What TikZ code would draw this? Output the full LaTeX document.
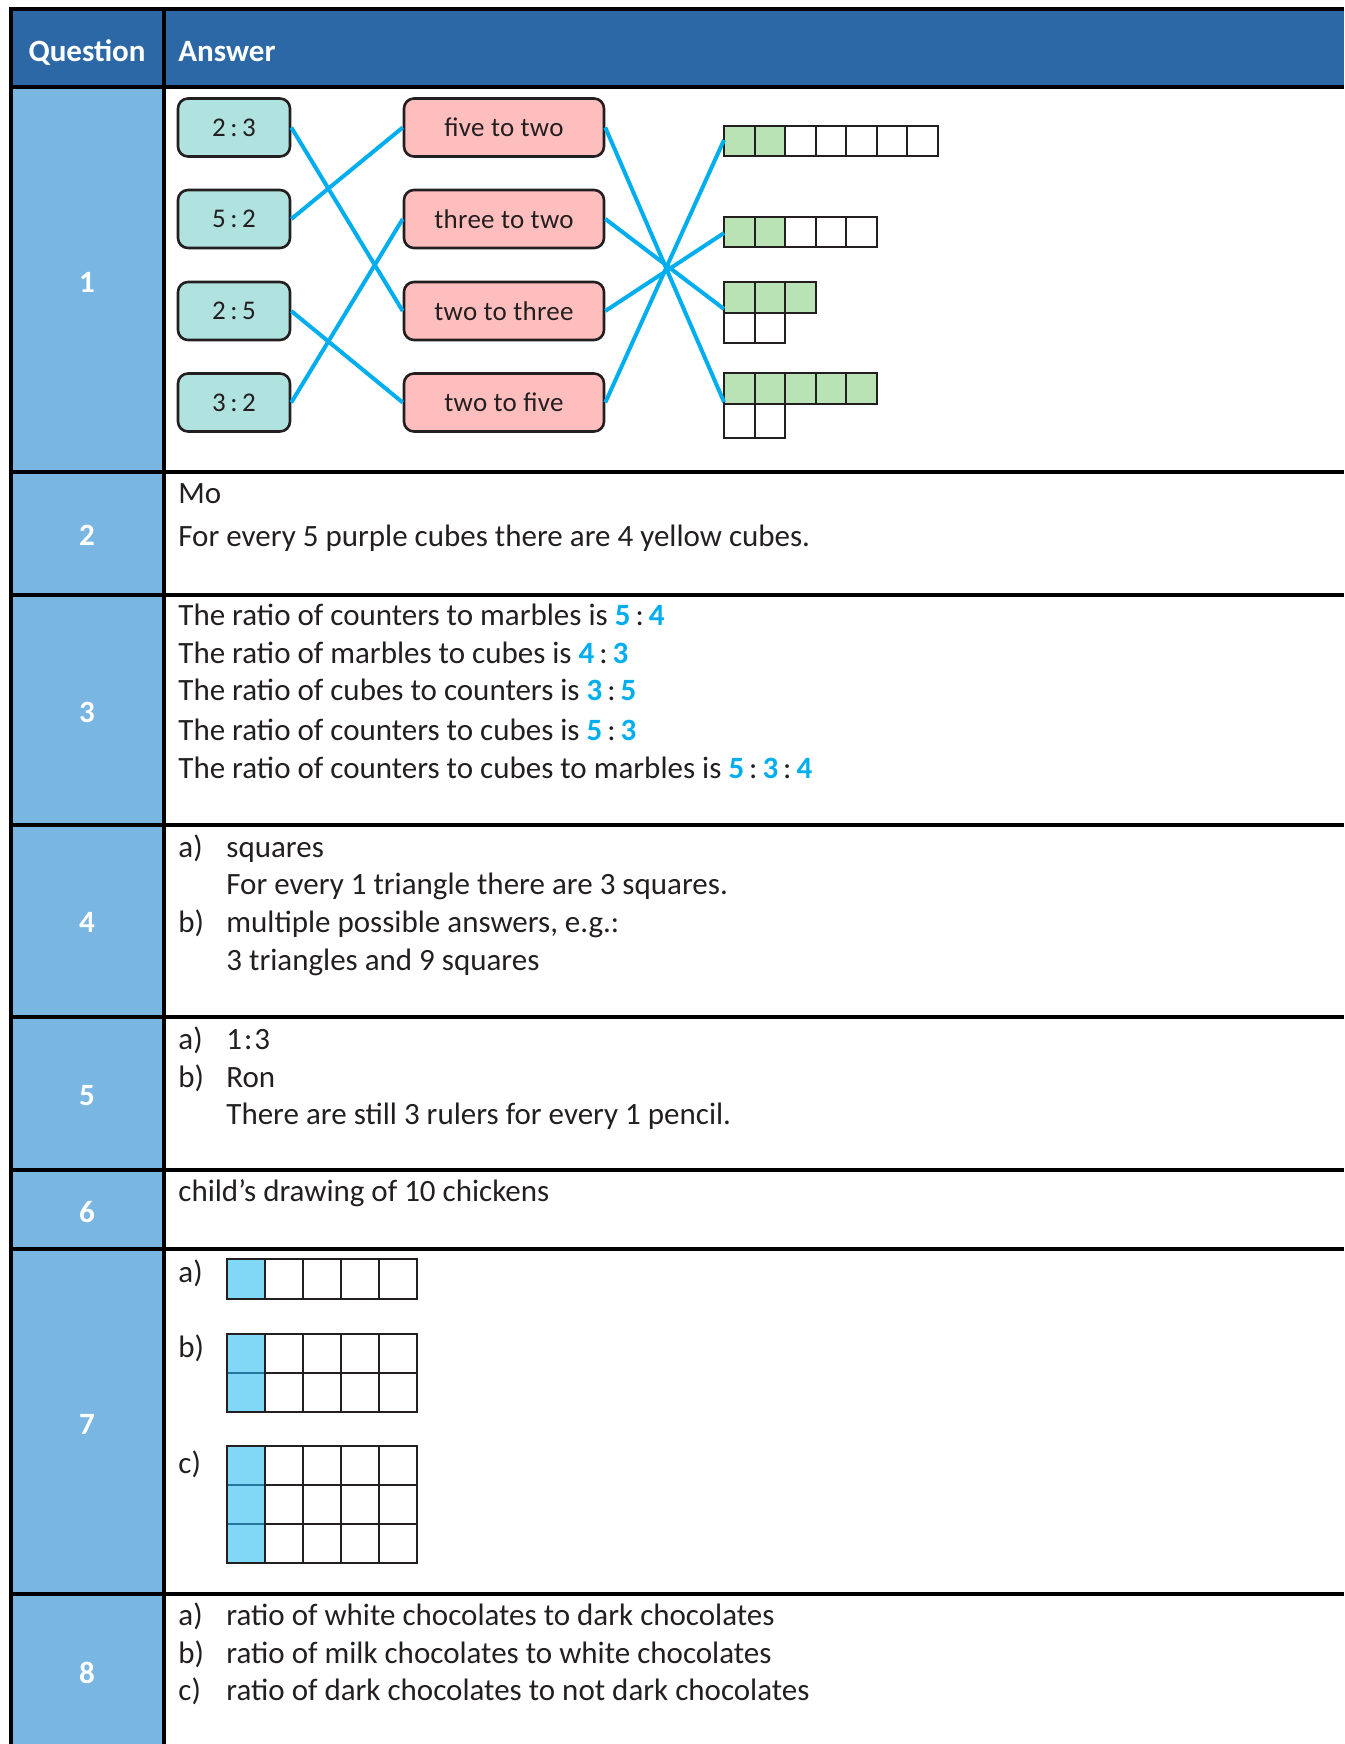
\documentclass[tikz,border=0pt]{standalone}
\usepackage{fontspec}
\setmainfont{Carlito}
\usepackage{xcolor}
\usetikzlibrary{positioning}

\definecolor{headblue}{HTML}{2D68A6}
\definecolor{qblue}{HTML}{79B6E2}
\definecolor{ratioteal}{HTML}{B0E2DF}
\definecolor{wordpink}{HTML}{FFBEBE}
\definecolor{barfill}{HTML}{B9E2B5}
\definecolor{partblue}{HTML}{80D7F6}
\definecolor{partline}{HTML}{23759B}
\definecolor{matchline}{HTML}{00AEEF}
\definecolor{ink}{HTML}{231F20}

\newcommand{\blueans}[1]{{\bfseries\color{matchline}#1}}
\newcommand{\rcolon}{\kern2.5pt:\kern2.5pt}

\tikzset{
  rule/.style = {line width=2pt, black},
  qnum/.style = {inner sep=0, text=white, font=\fontsize{15.5}{18}\selectfont\bfseries},
  ans/.style = {anchor=base west, inner sep=0, text=ink, font=\fontsize{15.5}{18}\selectfont},
  ratiobox/.style = {draw=ink, line width=1.3pt, rounded corners=5pt, fill=ratioteal,
    minimum width=56pt, minimum height=29pt, inner sep=0, text=ink,
    font=\fontsize{13.5}{15}\selectfont\addfontfeature{LetterSpace=1}},
  wordbox/.style = {ratiobox, fill=wordpink, minimum width=100pt},
  match/.style = {matchline, line width=2pt},
  cell/.style = {draw=ink, line width=1pt},
}

\begin{document}
\begin{tikzpicture}[x=0.5pt, y=-0.5pt]
  \useasboundingbox (0,0) rectangle (1344,1744);

  % table background
  \fill[headblue] (11,9) rectangle (1344,87);
  \fill[qblue] (11,87) rectangle (164,1744);

  \node[qnum, anchor=base] (qhead) at (87,62) {Question};
  \node[qnum, anchor=base west] (ahead) at (178,62) {Answer};

  \node[qnum] (q1) at (87,282) {1};
  \node[qnum] (q2) at (87,535) {2};
  \node[qnum] (q3) at (87,712) {3};
  \node[qnum] (q4) at (87,922) {4};
  \node[qnum] (q5) at (87,1096) {5};
  \node[qnum] (q6) at (87,1212) {6};
  \node[qnum] (q7) at (87,1424) {7};
  \node[qnum] (q8) at (87,1673) {8};

  % question 1
  \node[ratiobox] (r23) at (234,127.5) {2\,:\,3};
  \node[ratiobox] (r52) at (234,219) {5\,:\,2};
  \node[ratiobox] (r25) at (234,311) {2\,:\,5};
  \node[ratiobox] (r32) at (234,402.5) {3\,:\,2};

  \node[wordbox] (w52) at (504,127.5) {five to two};
  \node[wordbox] (w32) at (504,219) {three to two};
  \node[wordbox] (w23) at (504,311) {two to three};
  \node[wordbox] (w25) at (504,402.5) {two to five};

  \foreach \i in {0,1} \draw[cell, fill=barfill] ({724+30.5*\i},126) rectangle ++(30.5,30.5);
  \foreach \i in {2,...,6} \draw[cell, fill=white] ({724+30.5*\i},126) rectangle ++(30.5,30.5);

  \foreach \i in {0,1} \draw[cell, fill=barfill] ({724+30.5*\i},217) rectangle ++(30.5,30.5);
  \foreach \i in {2,...,4} \draw[cell, fill=white] ({724+30.5*\i},217) rectangle ++(30.5,30.5);

  \foreach \i in {0,...,2} \draw[cell, fill=barfill] ({724+30.5*\i},282) rectangle ++(30.5,30.5);
  \foreach \i in {0,1} \draw[cell, fill=white] ({724+30.5*\i},312.5) rectangle ++(30.5,30.5);

  \foreach \i in {0,...,4} \draw[cell, fill=barfill] ({724+30.5*\i},373) rectangle ++(30.5,30.5);
  \foreach \i in {0,1} \draw[cell, fill=white] ({724+30.5*\i},403.5) rectangle ++(30.5,34);

  \coordinate (bar25) at (724,140);
  \coordinate (bar23) at (724,233);
  \coordinate (bar32) at (724,309);
  \coordinate (bar52) at (724,402);

  \draw[match] (r23.east) -- (w23.west);
  \draw[match] (r52.east) -- (w52.west);
  \draw[match] (r25.east) -- (w25.west);
  \draw[match] (r32.east) -- (w32.west);

  \draw[match] (w52.east) -- (bar52);
  \draw[match] (w32.east) -- (bar32);
  \draw[match] (w23.east) -- (bar23);
  \draw[match] (w25.east) -- (bar25);

  % question 2
  \node[ans] (a2a) at (178,503) {Mo};
  \node[ans] (a2b) at (178,546) {For every 5 purple cubes there are 4 yellow cubes.};

  % question 3
  \node[ans] (a3a) at (178,625) {The ratio of counters to marbles is \blueans{5}\rcolon\blueans{4}};
  \node[ans] (a3b) at (178,663) {The ratio of marbles to cubes is \blueans{4}\rcolon\blueans{3}};
  \node[ans] (a3c) at (178,700) {The ratio of cubes to counters is \blueans{3}\rcolon\blueans{5}};
  \node[ans] (a3d) at (178,740) {The ratio of counters to cubes is \blueans{5}\rcolon\blueans{3}};
  \node[ans] (a3e) at (178,778) {The ratio of counters to cubes to marbles is \blueans{5}\rcolon\blueans{3}\rcolon\blueans{4}};

  % question 4
  \node[ans] (a4a) at (178,857) {a)};
  \node[ans] (a4b) at (226,857) {squares};
  \node[ans] (a4c) at (226,894) {For every 1 triangle there are 3 squares.};
  \node[ans] (a4d) at (178,932) {b)};
  \node[ans] (a4e) at (226,932) {multiple possible answers, e.g.:};
  \node[ans] (a4f) at (226,970) {3 triangles and 9 squares};

  % question 5
  \node[ans] (a5a) at (178,1049) {a)};
  \node[ans] (a5b) at (226,1049) {1\kern1pt:\kern1pt3};
  \node[ans] (a5c) at (178,1087) {b)};
  \node[ans] (a5d) at (226,1087) {Ron};
  \node[ans] (a5e) at (226,1124) {There are still 3 rulers for every 1 pencil.};

  % question 6
  \node[ans] (a6a) at (178,1201) {child’s drawing of 10 chickens};

  % question 7
  \node[ans] (a7a) at (178,1282) {a)};
  \node[ans] (a7b) at (178,1357) {b)};
  \node[ans] (a7c) at (178,1473) {c)};

  \draw[draw=partline, line width=1pt, fill=partblue] (227,1259) rectangle ++(38,40);
  \foreach \i in {1,...,4} \draw[cell] ({227+38*\i},1259) rectangle ++(38,40);

  \foreach \r in {0,1} \draw[draw=partline, line width=1pt, fill=partblue] (227,{1334+39*\r}) rectangle ++(38,39);
  \foreach \r in {0,1} \foreach \i in {1,...,4} \draw[cell] ({227+38*\i},{1334+39*\r}) rectangle ++(38,39);

  \foreach \r in {0,...,2} \draw[draw=partline, line width=1pt, fill=partblue] (227,{1446+39*\r}) rectangle ++(38,39);
  \foreach \r in {0,...,2} \foreach \i in {1,...,4} \draw[cell] ({227+38*\i},{1446+39*\r}) rectangle ++(38,39);

  \draw[cell] (227,1259) rectangle (417,1299);
  \draw[cell] (227,1334) rectangle (417,1412);
  \draw[cell] (227,1446) rectangle (417,1563);

  % question 8
  \node[ans] (a8a) at (178,1625) {a)};
  \node[ans] (a8b) at (226,1625) {ratio of white chocolates to dark chocolates};
  \node[ans] (a8c) at (178,1663) {b)};
  \node[ans] (a8d) at (226,1663) {ratio of milk chocolates to white chocolates};
  \node[ans] (a8e) at (178,1700) {c)};
  \node[ans] (a8f) at (226,1700) {ratio of dark chocolates to not dark chocolates};

  % table rules
  \draw[rule] (1344,9) -- (11,9) -- (11,1744);
  \draw[rule] (164,9) -- (164,1744);
  \draw[rule] (11,87) -- (1344,87);
  \draw[rule] (11,472) -- (1344,472);
  \draw[rule] (11,595) -- (1344,595);
  \draw[rule] (11,825) -- (1344,825);
  \draw[rule] (11,1017) -- (1344,1017);
  \draw[rule] (11,1170) -- (1344,1170);
  \draw[rule] (11,1249) -- (1344,1249);
  \draw[rule] (11,1594) -- (1344,1594);
\end{tikzpicture}
\end{document}
